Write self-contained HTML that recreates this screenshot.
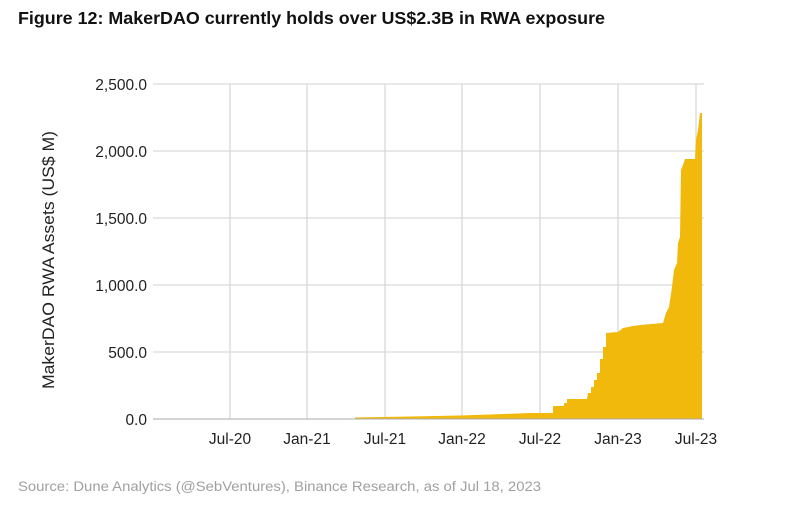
<!DOCTYPE html>
<html><head><style>
body{margin:0;background:#fff;width:789px;height:505px;overflow:hidden}
</style></head><body>
<svg width="789" height="505" xmlns="http://www.w3.org/2000/svg" font-family="Liberation Sans, sans-serif">
<text x="18" y="24" font-size="17.5" font-weight="bold" fill="#111" textLength="587" lengthAdjust="spacingAndGlyphs">Figure 12: MakerDAO currently holds over US$2.3B in RWA exposure</text>
<g stroke="#d9d9d9" stroke-width="1.3">
<line x1="153" y1="84" x2="704" y2="84"/>
<line x1="153" y1="151" x2="704" y2="151"/>
<line x1="153" y1="218" x2="704" y2="218"/>
<line x1="153" y1="285" x2="704" y2="285"/>
<line x1="153" y1="352" x2="704" y2="352"/>
<line x1="230" y1="84" x2="230" y2="419"/>
<line x1="307" y1="84" x2="307" y2="419"/>
<line x1="385" y1="84" x2="385" y2="419"/>
<line x1="462" y1="84" x2="462" y2="419"/>
<line x1="540" y1="84" x2="540" y2="419"/>
<line x1="618" y1="84" x2="618" y2="419"/>
<line x1="696" y1="84" x2="696" y2="419"/>
</g>
<polygon fill="#f0b90b" points="355,419 355,417.5 410,416.5 460,415.5 490,414.5 530,413 553,413 553,406 564,406 564,403 567,403 567,399 587,399 588,393 591,393 591,387 594,387 594,380 597,380 597,373 600,373 600,359 603,359 603,347 606,347 606,333 618,332 623,328 633,326 640,325 663,323 666,313 669,307 672,287 674,270 677,263 678,243 680,237 681,170 683,165 685,159 695,159 696,140 698,130 700,113 702,113 702,419"/>
<line x1="153" y1="419" x2="704" y2="419" stroke="#aaa" stroke-width="1"/>
<g font-size="15.5" fill="#222" text-anchor="end">
<text x="147" y="90">2,500.0</text>
<text x="147" y="157">2,000.0</text>
<text x="147" y="224">1,500.0</text>
<text x="147" y="291">1,000.0</text>
<text x="147" y="358">500.0</text>
<text x="147" y="425">0.0</text>
</g>
<g font-size="15.5" fill="#222" text-anchor="middle">
<text x="230" y="444">Jul-20</text>
<text x="307" y="444">Jan-21</text>
<text x="385" y="444">Jul-21</text>
<text x="462" y="444">Jan-22</text>
<text x="540" y="444">Jul-22</text>
<text x="618" y="444">Jan-23</text>
<text x="696" y="444">Jul-23</text>
</g>
<text transform="translate(54,260) rotate(-90)" font-size="16.5" fill="#222" text-anchor="middle" textLength="258" lengthAdjust="spacingAndGlyphs">MakerDAO RWA Assets (US$ M)</text>
<text x="18" y="491" font-size="13.5" fill="#a0a0a0" textLength="523" lengthAdjust="spacingAndGlyphs">Source: Dune Analytics (@SebVentures), Binance Research, as of Jul 18, 2023</text>
</svg>
</body></html>
